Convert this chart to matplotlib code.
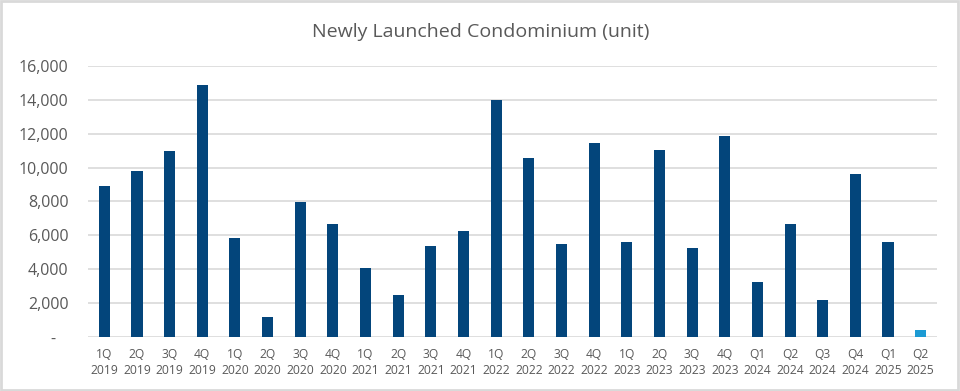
import matplotlib
matplotlib.use("Agg")
import matplotlib.pyplot as plt
from matplotlib.patches import Rectangle

quarters = ["1Q", "2Q", "3Q", "4Q", "1Q", "2Q", "3Q", "4Q", "1Q", "2Q", "3Q", "4Q",
            "1Q", "2Q", "3Q", "4Q", "1Q", "2Q", "3Q", "4Q", "Q1", "Q2", "Q3", "Q4",
            "Q1", "Q2"]
years = ["2019"] * 4 + ["2020"] * 4 + ["2021"] * 4 + ["2022"] * 4 + ["2023"] * 4 + ["2024"] * 4 + ["2025"] * 2
values = [8900, 9800, 11000, 14850, 5850, 1180, 7990, 6690, 4080, 2490, 5380, 6270,
          14020, 10590, 5500, 11480, 5620, 11070, 5270, 11890, 3250, 6690, 2190, 9640,
          5620, 410]
labels = [f"{q}\n{y}" for q, y in zip(quarters, years)]
yticks = [0, 2000, 4000, 6000, 8000, 10000, 12000, 14000, 16000]
ytick_labels = ["-   "] + [f"{v:,}" for v in yticks[1:]]

dark = "#03457B"
light = "#1C9AD3"
colors = [dark] * (len(values) - 1) + [light]
text_color = "#595959"

plt.rcParams["font.family"] = ["Open Sans", "DejaVu Sans"]

fig = plt.figure(figsize=(9.6, 3.91), dpi=100)
ax = fig.add_axes([88 / 960, 1 - 337 / 391, (937 - 88) / 960, (337 - 66) / 391])

x = list(range(len(values)))
ax.bar(x, values, width=0.34, color=colors, zorder=3)
ax.set_xlim(-0.5, len(values) - 0.5)
ax.set_ylim(0, 16000)
ax.set_yticks(yticks)
ax.set_yticklabels(ytick_labels)
ax.set_xticks(x)
ax.set_xticklabels(labels, fontsize=8.7, color=text_color, linespacing=1.3)
ax.tick_params(axis="y", labelsize=11.5, colors=text_color, length=0, pad=14)
ax.tick_params(axis="x", length=0, pad=8, colors=text_color)
ax.grid(axis="y", color="#D9D9D9", linewidth=1.2, zorder=0)
for s in ax.spines.values():
    s.set_visible(False)

fig.text(481 / 960, 1 - 32 / 391, "Newly Launched Condominium (unit)", ha="center", va="center",
         fontsize=14, color=text_color)

fig.patches.append(Rectangle((0.001, 0.002), 0.997, 0.995, transform=fig.transFigure,
                             fill=False, edgecolor="#D9D9D9", linewidth=2))

fig.savefig("out.png", dpi=100)
